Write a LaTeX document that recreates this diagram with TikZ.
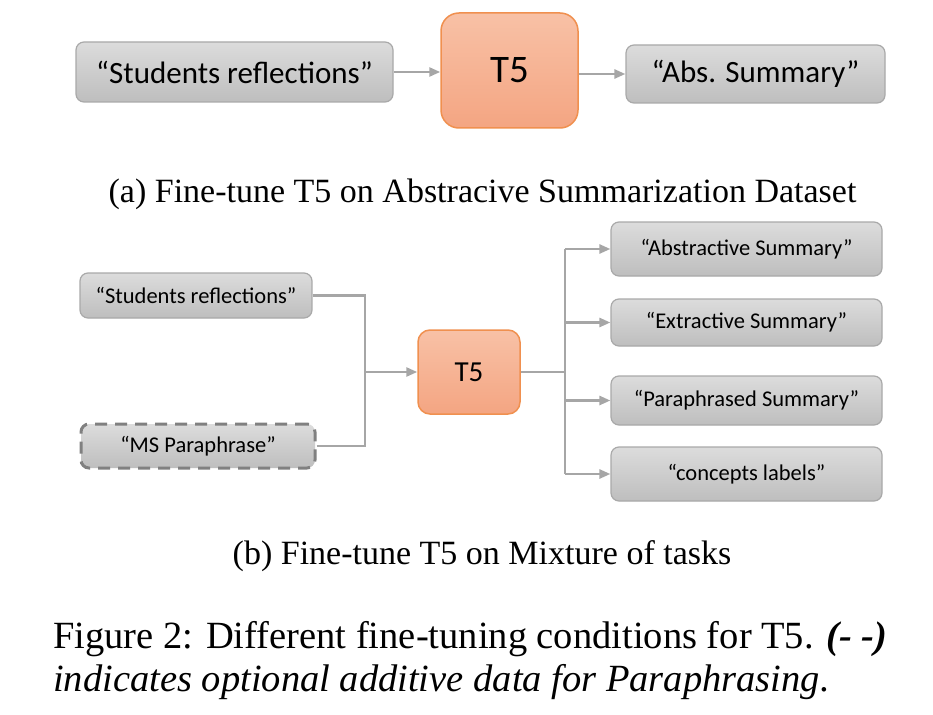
\documentclass[tikz,border=0pt]{standalone}
\usepackage{fontspec}
\setmainfont{Liberation Serif}
\newfontfamily\boxfont{Carlito}
\usetikzlibrary{arrows.meta}
\definecolor{boxtop}{HTML}{DCDCDC}
\definecolor{boxbot}{HTML}{BEBEBE}
\definecolor{boxline}{HTML}{A9A9A9}
\definecolor{tfivetop}{HTML}{F8C1A6}
\definecolor{tfivebot}{HTML}{F4A582}
\definecolor{tfiveline}{HTML}{F0904F}
\definecolor{link}{HTML}{A6A6A6}
\tikzset{
  graybox/.style={draw=boxline,line width=1.2pt,rounded corners=8pt,top color=boxtop,bottom color=boxbot,
    inner sep=0pt,font=\boxfont},
  tfive/.style={draw=tfiveline,line width=1.5pt,top color=tfivetop,bottom color=tfivebot,inner sep=0pt,font=\boxfont},
  link/.style={draw=link,line width=2.5pt,-{Triangle[length=11pt,width=9pt]}},
  caption/.style={inner sep=0pt,anchor=base west}
}
\begin{document}
\begin{tikzpicture}[x=1pt,y=-1pt]
\fill[white](0,0) rectangle (933,714);
\useasboundingbox (0,0) rectangle (933,714);
\node[graybox,minimum width=317pt,minimum height=60pt,font=\boxfont\fontsize{31}{34}\selectfont] (refl) at (234.5,72) {“Students reflections”};
\node[tfive,rounded corners=18pt,minimum width=137pt,minimum height=115pt,font=\boxfont\fontsize{39}{42}\selectfont] (t5a) at (509.5,70.5) {T5};
\node[graybox,minimum width=259pt,minimum height=58pt,font=\boxfont\fontsize{31}{34}\selectfont] (abs) at (755.5,74) {“Abs. Summary”};
\draw[link] (refl.east) -- (refl.east -| t5a.west);
\draw[link] (abs.west -| t5a.east) -- (abs.west);
\node[inner sep=0pt,anchor=base,font=\fontsize{34}{38}\selectfont] (capa) at (482.5,202) {(a) Fine-tune T5 on Abstracive Summarization Dataset};
\node[graybox,minimum width=232pt,minimum height=45pt,font=\boxfont\fontsize{22.5}{26}\selectfont] (refl2) at (196,295.5) {“Students reflections”};
\node[graybox,draw=gray,line width=3pt,dash pattern=on 12pt off 8pt,minimum width=234pt,minimum height=44pt,font=\boxfont\fontsize{22.5}{26}\selectfont] (para) at (198,446) {“MS Paraphrase”};
\node[tfive,rounded corners=12pt,minimum width=102pt,minimum height=84pt,font=\boxfont\fontsize{29}{32}\selectfont] (t5b) at (469,372) {T5};
\coordinate (join) at (365,372);
\coordinate (fork) at (565,372);
\draw[link,-] (refl2.east) -| (join);
\draw[link,-] (para.east) -| (join);
\draw[link] (join) -- (t5b.west);
\draw[link,-] (t5b.east) -- (fork);
\foreach \name/\txt/\yy/\hh in {abst/{“Abstractive Summary”}/249/54,extr/{“Extractive Summary”}/322.5/47,phr/{“Paraphrased Summary”}/400.5/49,conc/{“concepts labels”}/474/54}{
  \node[graybox,minimum width=271pt,minimum height=\hh pt,font=\boxfont\fontsize{22.5}{26}\selectfont] (\name) at (746.5,\yy) {\txt};
  \draw[link] (fork |- \name.west) -- (\name.west);
}
\draw[link,-] (fork |- abst.west) -- (fork |- conc.west);
\node[inner sep=0pt,anchor=base,font=\fontsize{34}{38}\selectfont] (capb) at (482,564) {(b) Fine-tune T5 on Mixture of tasks};
\node[caption,font=\fontsize{38.5}{42}\selectfont] (fig1) at (53,648) {Figure 2: Different fine-tuning conditions for T5. \textit{\textbf{(- -)}}};
\node[caption,font=\fontsize{38.5}{42}\selectfont] (fig2) at (53,691) {\textit{indicates optional additive data for Paraphrasing.}};
\end{tikzpicture}
\end{document}
